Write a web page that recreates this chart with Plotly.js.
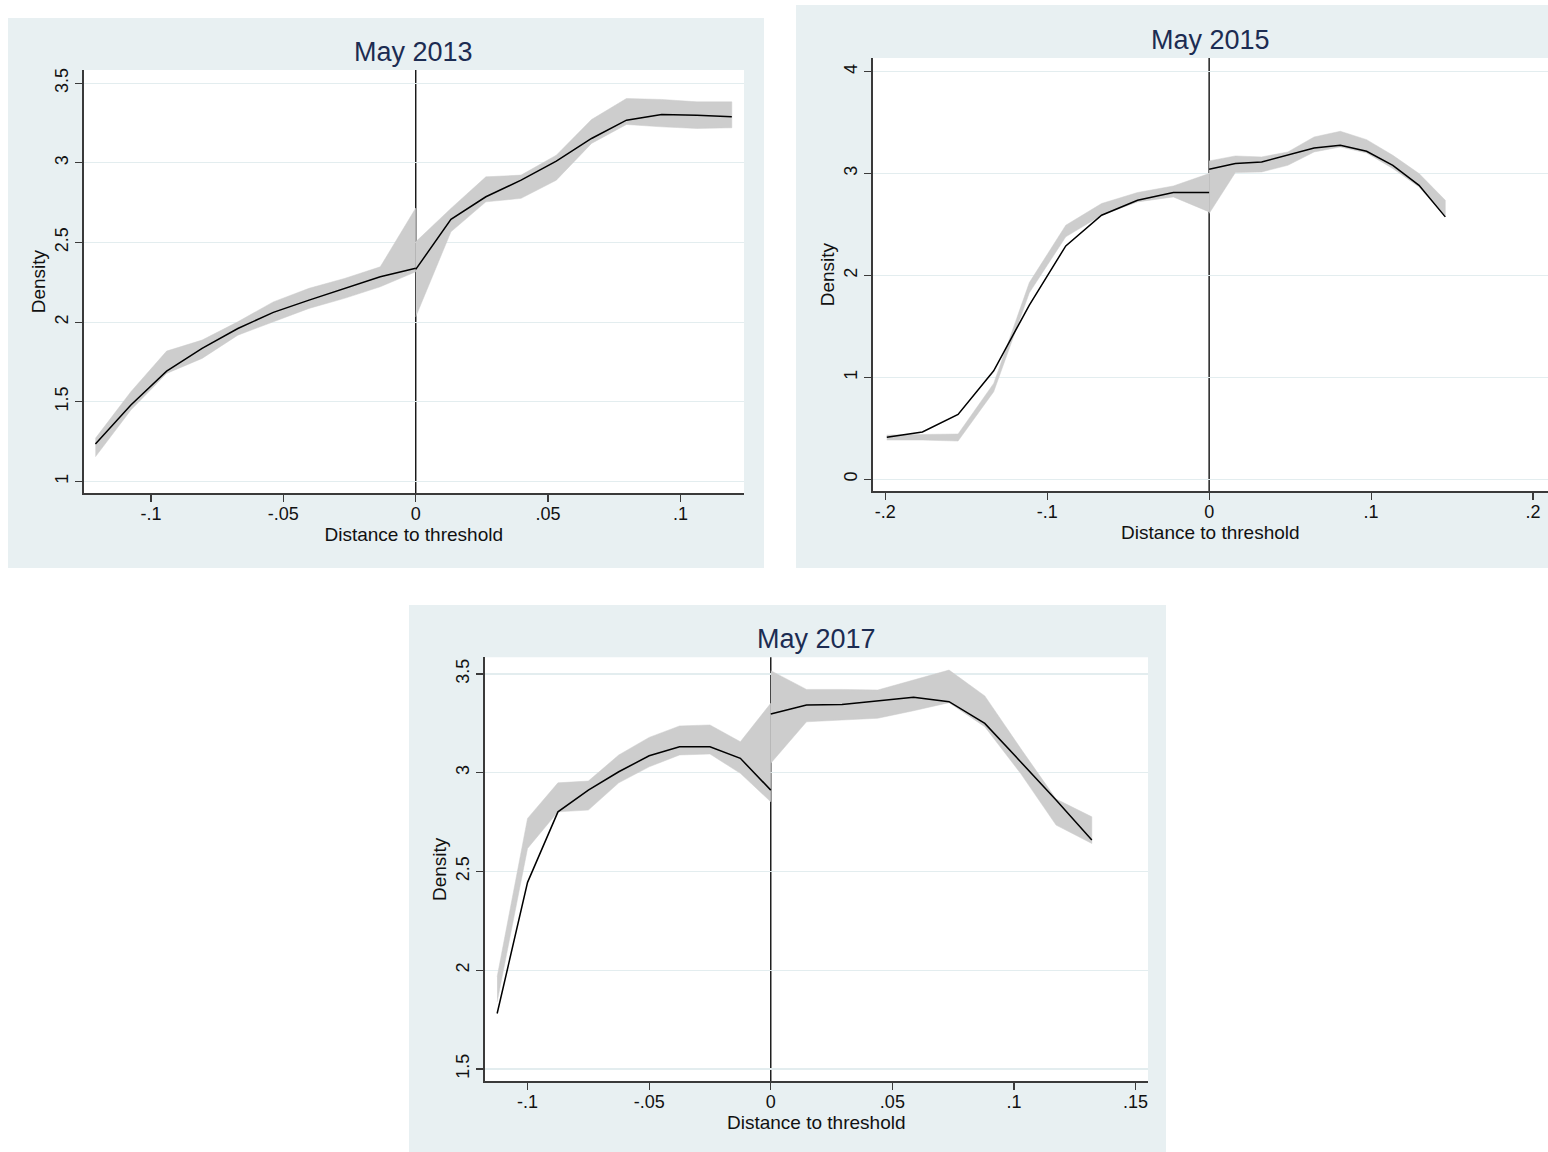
<!DOCTYPE html>
<html><head><meta charset="utf-8">
<script src="https://cdn.plot.ly/plotly-3.0.1.min.js"></script>
<style>html,body{margin:0;padding:0;background:#fff}</style>
</head><body><div id="chart" style="width:1548px;height:1152px"></div>
<script>
// ---------- DATA ----------
// May 2013
const xL13 = [-0.121, -0.1076, -0.0941, -0.0807, -0.0672, -0.0538, -0.0403, -0.0269, -0.0134, 0];
const dL13 = [1.234, 1.479, 1.692, 1.835, 1.96, 2.061, 2.138, 2.212, 2.285, 2.338];
const loL13 = [1.154, 1.448, 1.678, 1.772, 1.918, 2.002, 2.086, 2.149, 2.222, 2.316];
const hiL13 = [1.27, 1.563, 1.818, 1.887, 2.002, 2.127, 2.212, 2.274, 2.347, 2.716];
const xR13 = [0, 0.0133, 0.0265, 0.0398, 0.0531, 0.0664, 0.0796, 0.0929, 0.1062, 0.1194];
const dR13 = [2.331, 2.645, 2.787, 2.891, 3.011, 3.153, 3.268, 3.304, 3.299, 3.289];
const loR13 = [2.033, 2.567, 2.755, 2.777, 2.891, 3.122, 3.241, 3.226, 3.216, 3.22];
const hiR13 = [2.504, 2.714, 2.912, 2.923, 3.048, 3.272, 3.404, 3.398, 3.383, 3.383];

// May 2015
const xL15 = [-0.199, -0.177, -0.155, -0.133, -0.111, -0.0885, -0.0664, -0.0442, -0.0221, 0];
const dL15 = [0.412, 0.464, 0.637, 1.065, 1.71, 2.29, 2.591, 2.738, 2.814, 2.814];
const loL15 = [0.385, 0.385, 0.375, 0.859, 1.83, 2.379, 2.591, 2.722, 2.771, 2.624];
const hiL15 = [0.434, 0.44, 0.444, 0.941, 1.93, 2.493, 2.706, 2.814, 2.878, 3.0];
const xR15 = [0, 0.0162, 0.0324, 0.0486, 0.0648, 0.081, 0.0972, 0.1134, 0.1296, 0.1458];
const dR15 = [3.042, 3.098, 3.114, 3.179, 3.251, 3.277, 3.219, 3.081, 2.885, 2.575];
const loR15 = [2.608, 3.01, 3.016, 3.081, 3.212, 3.261, 3.202, 3.049, 2.869, 2.575];
const hiR15 = [3.124, 3.173, 3.163, 3.212, 3.359, 3.415, 3.333, 3.179, 3.0, 2.738];

// May 2017
const xL17 = [-0.1125, -0.1, -0.0875, -0.075, -0.0625, -0.05, -0.0375, -0.025, -0.0125, 0];
const dL17 = [1.781, 2.445, 2.802, 2.912, 3.005, 3.086, 3.132, 3.132, 3.073, 2.912];
const loL17 = [1.84, 2.617, 2.802, 2.811, 2.949, 3.03, 3.09, 3.095, 2.997, 2.853];
const hiL17 = [1.967, 2.769, 2.949, 2.958, 3.09, 3.179, 3.237, 3.242, 3.157, 3.352];
const xR17 = [0, 0.0147, 0.0293, 0.044, 0.0587, 0.0733, 0.088, 0.1027, 0.1173, 0.132];
const dR17 = [3.297, 3.343, 3.346, 3.363, 3.382, 3.36, 3.25, 3.056, 2.862, 2.659];
const loR17 = [3.048, 3.258, 3.267, 3.276, 3.314, 3.355, 3.233, 2.997, 2.735, 2.642];
const hiR17 = [3.517, 3.422, 3.422, 3.419, 3.47, 3.52, 3.389, 3.124, 2.867, 2.777];

// Tick labels
const xTick13 = [-0.1, -0.05, 0, 0.05, 0.1];
const xTickText13 = ['-.1', '-.05', '0', '.05', '.1'];
const yTick13 = [1, 1.5, 2, 2.5, 3, 3.5];
const yTickText13 = ['1', '1.5', '2', '2.5', '3', '3.5'];
const xTick15 = [-0.2, -0.1, 0, 0.1, 0.2];
const xTickText15 = ['-.2', '-.1', '0', '.1', '.2'];
const yTick15 = [0, 1, 2, 3, 4];
const yTickText15 = ['0', '1', '2', '3', '4'];
const xTick17 = [-0.1, -0.05, 0, 0.05, 0.1, 0.15];
const xTickText17 = ['-.1', '-.05', '0', '.05', '.1', '.15'];
const yTick17 = [1.5, 2, 2.5, 3, 3.5];
const yTickText17 = ['1.5', '2', '2.5', '3', '3.5'];

const titles = ['May 2013', 'May 2015', 'May 2017'];
const xTitle = 'Distance to threshold';
const yTitle = 'Density';

// ---------- STYLE / LAYOUT ----------
const W = 1548, H = 1152;
const px = v => v / W;
const py = v => 1 - v / H;
const FONT = 'Liberation Sans, Arial, Helvetica, sans-serif';
const BAND = '#cdcdcd';
const PANEL = '#e8f0f2';
const GRID = '#e3edef';
const AX = '#3a3a3a';

function band(x, lo, hi, xa, ya) {
  return {x: x.concat(x.slice().reverse()), y: lo.concat(hi.slice().reverse()),
    type: 'scatter', mode: 'lines', fill: 'toself', fillcolor: BAND,
    line: {color: BAND, width: 0.5}, xaxis: xa, yaxis: ya, hoverinfo: 'skip'};
}
function line(x, d, xa, ya) {
  return {x: x, y: d, type: 'scatter', mode: 'lines',
    line: {color: '#000', width: 1.5}, xaxis: xa, yaxis: ya};
}

const traces = [
  band(xL13, loL13, hiL13, 'x', 'y'), band(xR13, loR13, hiR13, 'x', 'y'),
  line(xL13, dL13, 'x', 'y'), line(xR13, dR13, 'x', 'y'),
  band(xL15, loL15, hiL15, 'x2', 'y2'), band(xR15, loR15, hiR15, 'x2', 'y2'),
  line(xL15, dL15, 'x2', 'y2'), line(xR15, dR15, 'x2', 'y2'),
  band(xL17, loL17, hiL17, 'x3', 'y3'), band(xR17, loR17, hiR17, 'x3', 'y3'),
  line(xL17, dL17, 'x3', 'y3'), line(xR17, dR17, 'x3', 'y3')
];

// plot-area pixel boxes [left, right, top, bottom]
const P = [[83.5, 744, 70, 493.3], [872.7, 1548, 58, 491.3], [484.5, 1148, 657.3, 1081.3]];
// panel backgrounds [left, right, top, bottom]
const B = [[8, 764, 18, 568], [796, 1548, 5, 568], [409, 1166, 605, 1152]];
const titleY = [52, 40, 639];

function xax(i, range, tv, tt) {
  return {domain: [px(P[i][0]), px(P[i][1])], anchor: i === 0 ? 'y' : 'y' + (i + 1),
    range: range, tickmode: 'array', tickvals: tv, ticktext: tt,
    showgrid: false, zeroline: false, showline: true, linecolor: AX, linewidth: 1.3,
    ticks: 'outside', ticklen: 7, tickwidth: 1.2, tickcolor: AX, ticklabelstandoff: -3,
    tickfont: {family: FONT, size: 18, color: '#111'},
    title: {text: xTitle, font: {family: FONT, size: 19, color: '#111'}, standoff: 0}};
}
function yax(i, range, tv, tt) {
  return {domain: [py(P[i][3]), py(P[i][2])], anchor: i === 0 ? 'x' : 'x' + (i + 1),
    range: range, tickmode: 'array', tickvals: tv, ticktext: tt, tickangle: -90,
    showgrid: true, gridcolor: GRID, gridwidth: 1.2, zeroline: false,
    showline: true, linecolor: AX, linewidth: 1.3,
    ticks: 'outside', ticklen: 7, tickwidth: 1.2, tickcolor: AX,
    tickfont: {family: FONT, size: 18, color: '#111'},
    title: {text: yTitle, font: {family: FONT, size: 19, color: '#111'}, standoff: 1}};
}

const shapes = [];
B.forEach(b => shapes.push({type: 'rect', xref: 'paper', yref: 'paper', layer: 'below',
  x0: px(b[0]), x1: px(b[1]), y0: py(b[3]), y1: py(b[2]), fillcolor: PANEL, line: {width: 0}}));
P.forEach(p => shapes.push({type: 'rect', xref: 'paper', yref: 'paper', layer: 'below',
  x0: px(p[0]), x1: px(p[1]), y0: py(p[3]), y1: py(p[2]), fillcolor: '#ffffff', line: {width: 0}}));
['x', 'x2', 'x3'].forEach((xa, i) => shapes.push({type: 'line', xref: xa,
  yref: (i === 0 ? 'y' : 'y' + (i + 1)) + ' domain', layer: 'below',
  x0: 0, x1: 0, y0: 0, y1: 1, line: {color: '#111', width: 1.4}}));

const annotations = titles.map((t, i) => ({text: t, xref: 'paper', yref: 'paper',
  x: px((P[i][0] + P[i][1]) / 2), y: py(titleY[i]), xanchor: 'center', yanchor: 'middle',
  showarrow: false, font: {family: FONT, size: 27, color: '#1c2c52'}}));

const layout = {
  width: W, height: H, margin: {l: 0, r: 0, t: 0, b: 0},
  paper_bgcolor: '#ffffff', plot_bgcolor: 'rgba(0,0,0,0)', showlegend: false,
  xaxis: xax(0, [-0.1255, 0.124], xTick13, xTickText13),
  yaxis: yax(0, [0.925, 3.583], yTick13, yTickText13),
  xaxis2: xax(1, [-0.2077, 0.2092], xTick15, xTickText15),
  yaxis2: yax(1, [-0.118, 4.134], yTick15, yTickText15),
  xaxis3: xax(2, [-0.1177, 0.1551], xTick17, xTickText17),
  yaxis3: yax(2, [1.4377, 3.5846], yTick17, yTickText17),
  shapes: shapes, annotations: annotations
};

Plotly.newPlot('chart', traces, layout, {displayModeBar: false, staticPlot: true});
</script></body></html>
